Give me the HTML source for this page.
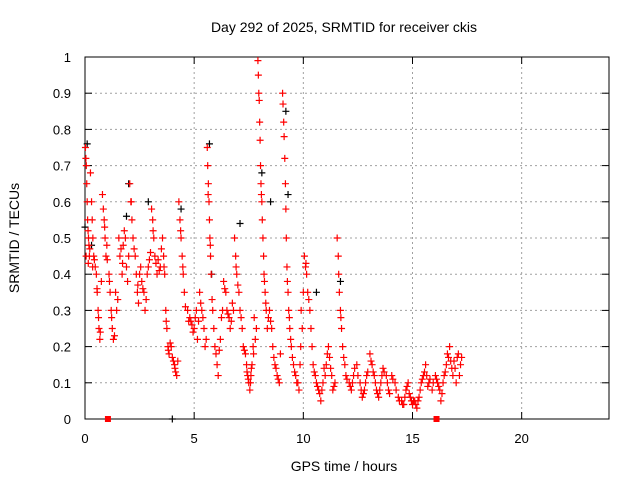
<!DOCTYPE html>
<html><head><meta charset="utf-8"><style>
html,body{margin:0;padding:0;background:#fff;}
svg{display:block;font-family:"Liberation Sans",sans-serif;}
</style></head><body>
<svg id="chart" width="640" height="480" viewBox="0 0 640 480">
<rect x="0" y="0" width="640" height="480" fill="#fff"/>
<text x="344" y="32" font-size="14" text-anchor="middle">Day 292 of 2025, SRMTID for receiver ckis</text>
<text x="344" y="471" font-size="14" text-anchor="middle">GPS time / hours</text>
<text transform="translate(19,238) rotate(-90)" font-size="14" text-anchor="middle">SRMTID / TECUs</text>
<g id="grid"></g><g id="axes"></g><g id="marks"></g>
</svg>
<script>
const xTicks=[0,5,10,15,20];
const yTicks=[0,0.1,0.2,0.3,0.4,0.5,0.6,0.7,0.8,0.9,1];
const yTickLabels=["0","0.1","0.2","0.3","0.4","0.5","0.6","0.7","0.8","0.9","1"];
const hours=[0.02,0.04,0.06,0.08,0.1,0.12,0.14,0.16,0.18,0.2,
0.25,0.3,0.33,0.36,0.4,0.43,0.47,0.52,0.56,0.6,0.64,0.68,0.75,0.8,0.84,0.88,0.92,0.96,1.0,
1.1,1.15,1.2,1.25,1.3,1.4,1.45,1.55,1.6,1.7,1.75,1.8,1.9,1.95,
2.05,2.1,2.15,2.2,2.3,2.35,2.4,2.45,2.55,2.6,2.7,2.75,2.85,2.95,
3.05,3.1,3.15,3.2,3.3,3.35,3.45,3.55,3.6,3.65,3.7,3.75,3.8,3.85,
3.95,4.0,4.1,4.15,4.2,4.3,4.35,4.4,4.45,4.5,4.55,4.7,4.8,4.9,5.0,5.1,5.15,
5.25,5.3,5.4,5.45,5.5,5.6,5.62,5.65,5.68,5.7,5.72,5.75,5.78,
5.85,5.9,6.0,6.05,6.1,6.2,6.25,6.35,6.45,6.5,6.6,6.65,6.75,
6.85,6.9,6.95,7.05,7.1,7.2,7.25,7.35,7.4,7.45,7.5,7.55,7.6,7.65,7.7,7.75,7.8,
7.92,7.94,7.96,7.98,8.0,8.02,8.04,8.06,8.1,8.12,8.15,8.18,8.2,8.25,8.3,8.35,
8.45,8.55,8.6,8.7,8.8,8.9,8.95,
9.05,9.07,9.1,9.12,9.15,9.18,9.2,9.22,9.25,9.3,9.33,9.38,
9.45,9.55,9.65,9.75,9.8,9.85,9.9,9.95,
10.05,10.1,10.15,10.2,10.3,10.4,10.45,10.55,10.6,10.7,10.8,10.9,10.95,
11.05,11.15,11.2,11.3,11.35,11.45,11.55,11.6,11.65,11.7,11.75,11.8,11.9,11.95,
12.1,12.2,12.3,12.45,12.6,12.7,12.8,12.9,
13.05,13.15,13.25,13.35,13.45,13.55,13.65,13.8,13.9,
14.05,14.2,14.35,14.5,14.6,14.7,14.8,14.9,
15.0,15.1,15.2,15.3,15.4,15.5,15.6,15.75,15.9,
16.05,16.15,16.25,16.3,16.4,16.45,16.55,16.6,16.7,16.8,16.85,16.9,17.0,17.1,17.2];
const srmtid=[0.75,0.72,0.7,0.65,0.6,0.55,0.52,0.5,0.48,0.45,
0.68,0.6,0.55,0.5,0.45,0.44,0.42,0.4,0.35,0.3,0.25,0.22,0.38,0.62,0.58,0.55,0.5,0.45,0.48,
0.4,0.35,0.3,0.25,0.22,0.35,0.3,0.5,0.45,0.4,0.48,0.52,0.42,0.38,
0.65,0.6,0.55,0.5,0.45,0.4,0.35,0.32,0.42,0.38,0.35,0.3,0.4,0.44,
0.58,0.55,0.5,0.45,0.4,0.44,0.42,0.5,0.45,0.4,0.3,0.25,0.2,0.18,
0.2,0.17,0.15,0.13,0.12,0.6,0.55,0.5,0.45,0.4,0.35,0.3,0.28,0.26,0.25,0.3,0.22,
0.35,0.32,0.28,0.25,0.2,0.75,0.7,0.65,0.6,0.55,0.5,0.45,0.4,
0.3,0.25,0.18,0.15,0.12,0.22,0.28,0.38,0.35,0.3,0.28,0.25,0.32,
0.5,0.45,0.4,0.35,0.3,0.25,0.2,0.18,0.15,0.12,0.1,0.08,0.12,0.15,0.2,0.28,0.22,
0.99,0.95,0.9,0.88,0.82,0.77,0.7,0.65,0.6,0.55,0.5,0.45,0.4,0.35,0.3,0.25,
0.3,0.25,0.2,0.15,0.12,0.1,0.18,
0.9,0.87,0.82,0.78,0.72,0.65,0.58,0.5,0.42,0.35,0.3,0.25,
0.2,0.15,0.12,0.1,0.08,0.15,0.3,0.25,
0.45,0.42,0.4,0.35,0.3,0.2,0.15,0.12,0.1,0.08,0.05,0.1,0.14,
0.15,0.2,0.17,0.12,0.08,0.1,0.5,0.45,0.35,0.3,0.25,0.2,0.15,0.12,
0.1,0.08,0.12,0.15,0.1,0.06,0.08,0.12,
0.18,0.15,0.12,0.08,0.06,0.1,0.14,0.12,0.08,
0.12,0.1,0.06,0.05,0.04,0.08,0.1,0.06,
0.04,0.05,0.03,0.06,0.1,0.12,0.15,0.1,0.08,
0.12,0.1,0.08,0.05,0.1,0.12,0.15,0.18,0.2,0.14,0.12,0.16,0.1,0.18,0.15];
const extraHours=[0.05,0.15,0.22,0.35,0.55,0.62,0.7,0.9,1.02,1.12,1.22,1.35,1.5,1.65,1.72,1.85,2.0,2.12,2.25,2.42,2.5,2.65,2.8,2.9,3.0,3.12,3.25,3.4,3.5,3.62,3.72,3.82,3.9,4.05,4.12,4.25,4.38,4.48,4.6,4.75,4.85,4.95,5.05,5.2,5.35,5.55,5.64,5.74,5.82,5.95,6.15,6.3,6.4,6.55,6.7,6.8,6.92,7.0,7.15,7.3,7.42,7.48,7.58,7.62,7.72,7.85,8.08,8.22,8.28,8.4,8.5,8.65,8.75,8.85,9.27,9.36,9.42,9.5,9.6,9.7,9.88,10.0,10.12,10.25,10.35,10.5,10.65,10.75,10.85,11.0,11.1,11.25,11.4,11.62,11.72,11.85,12.0,12.15,12.25,12.35,12.5,12.65,12.75,12.85,12.95,13.1,13.2,13.3,13.4,13.5,13.6,13.7,13.85,13.95,14.1,14.25,14.4,14.55,14.65,14.75,14.85,14.95,15.05,15.15,15.25,15.35,15.45,15.55,15.65,15.7,15.8,15.95,16.1,16.2,16.35,16.5,16.65,16.75,16.95,17.05,17.15,17.25];
const extraValues=[0.45,0.43,0.47,0.42,0.36,0.28,0.24,0.53,0.44,0.38,0.28,0.23,0.33,0.47,0.43,0.5,0.45,0.6,0.47,0.37,0.4,0.36,0.33,0.42,0.46,0.52,0.43,0.41,0.47,0.42,0.27,0.19,0.21,0.16,0.14,0.16,0.52,0.42,0.31,0.27,0.27,0.24,0.28,0.27,0.3,0.22,0.62,0.48,0.33,0.2,0.19,0.3,0.36,0.29,0.27,0.3,0.42,0.37,0.28,0.19,0.13,0.11,0.1,0.14,0.18,0.25,0.62,0.38,0.32,0.28,0.27,0.17,0.14,0.11,0.38,0.28,0.22,0.17,0.13,0.1,0.2,0.35,0.43,0.33,0.25,0.13,0.09,0.07,0.08,0.12,0.18,0.14,0.09,0.4,0.28,0.17,0.11,0.09,0.1,0.14,0.12,0.08,0.07,0.1,0.13,0.16,0.13,0.1,0.07,0.08,0.12,0.13,0.1,0.07,0.11,0.08,0.05,0.04,0.06,0.09,0.07,0.05,0.05,0.04,0.05,0.08,0.11,0.13,0.12,0.09,0.11,0.1,0.11,0.09,0.07,0.13,0.17,0.16,0.14,0.17,0.12,0.17];
const blackHours=[0.0,0.1,0.3,1.9,2.0,2.9,4.0,4.4,5.7,5.8,7.1,8.1,8.5,9.2,9.3,10.6,11.7];
const blackValues=[0.53,0.76,0.48,0.56,0.65,0.6,0.0,0.58,0.76,0.4,0.54,0.68,0.6,0.85,0.62,0.35,0.38];
const zeroHours=[1.05,16.1];
const zeroValues=[0,0];

const X0=85,X1=609,Y0=419,Y1=57,XMAX=24;
const sx=t=>X0+t/XMAX*(X1-X0);
const sy=v=>Y0-v*(Y0-Y1);
const NS="http://www.w3.org/2000/svg";
function mk(tag,attrs,parent){const e=document.createElementNS(NS,tag);for(const k in attrs)e.setAttribute(k,attrs[k]);parent.appendChild(e);return e;}
const grid=document.getElementById('grid'),axes=document.getElementById('axes'),marks=document.getElementById('marks');
yTicks.forEach((v,i)=>{
  const y=sy(v);
  if(i>0&&i<yTicks.length-1){const g=mk('line',{x1:X0,x2:X1,y1:y,y2:y,stroke:'#a0a0a0','stroke-dasharray':'2,3','stroke-width':1},grid);
  
  }
  mk('line',{x1:X0,x2:X0+7,y1:y,y2:y,stroke:'#000'},axes);
  mk('line',{x1:X1,x2:X1-7,y1:y,y2:y,stroke:'#000'},axes);
  const t=mk('text',{x:71,y:y+5,'font-size':13,'text-anchor':'end'},axes);
  t.textContent=yTickLabels[i];
  
  
});
xTicks.forEach(v=>{
  const x=sx(v);
  if(v>0){const g=mk('line',{x1:x,x2:x,y1:Y1,y2:Y0,stroke:'#a0a0a0','stroke-dasharray':'2,3','stroke-width':1},grid);
  
  }
  mk('line',{x1:x,x2:x,y1:Y0,y2:Y0-7,stroke:'#000'},axes);
  mk('line',{x1:x,x2:x,y1:Y1,y2:Y1+7,stroke:'#000'},axes);
  const t=mk('text',{x:x,y:443,'font-size':13,'text-anchor':'middle'},axes);
  t.textContent=String(v);
  
  
});
const frame=mk('rect',{x:X0,y:Y1,width:X1-X0,height:Y0-Y1,fill:'none',stroke:'#000'},axes);


function plus(t,v,color,name){
  const x=sx(t),y=sy(v);
  const p=mk('path',{d:`M${x-3.5},${y}H${x+3.5}M${x},${y-3.5}V${y+3.5}`,stroke:color,'stroke-width':1.2,fill:'none'},marks);
  
  
}
blackHours.forEach((t,i)=>plus(t,blackValues[i],'#000','black-point'));
hours.forEach((t,i)=>plus(t,srmtid[i],'#ff0000','srmtid-point'));
extraHours.forEach((t,i)=>plus(t,extraValues[i],'#ff0000','srmtid-point'));
zeroHours.forEach((t,i)=>{
  const r=mk('rect',{x:sx(t)-3,y:sy(zeroValues[i])-3,width:6,height:6,fill:'#ff0000'},marks);
  
  
});
</script>
</body></html>
